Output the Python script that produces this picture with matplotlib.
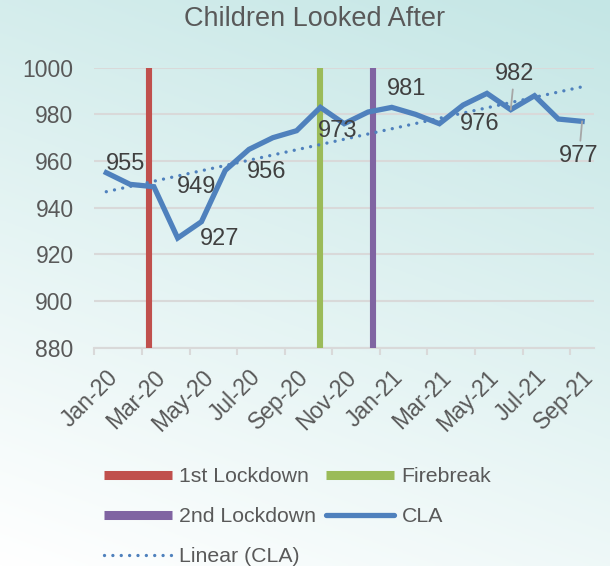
import numpy as np
import matplotlib
matplotlib.use("Agg")
import matplotlib.pyplot as plt
from matplotlib.lines import Line2D
from matplotlib.transforms import ScaledTranslation

plt.rcParams['font.family'] = ['Liberation Sans', 'DejaVu Sans']

# ---- data ----
months = ["Jan-20", "Feb-20", "Mar-20", "Apr-20", "May-20", "Jun-20", "Jul-20",
          "Aug-20", "Sep-20", "Oct-20", "Nov-20", "Dec-20", "Jan-21", "Feb-21",
          "Mar-21", "Apr-21", "May-21", "Jun-21", "Jul-21", "Aug-21", "Sep-21"]
cla = [955, 950, 949, 927, 934, 956, 965, 970, 973, 983, 976, 981, 983, 980,
       976, 984, 989, 982, 988, 978, 977]
# event markers (position in month units from Jan-20)
event_names = ["1st Lockdown", "Firebreak", "2nd Lockdown"]
event_pos = [1.8, 8.98, 11.2]
# labelled points (index into cla) and label positions (month units, value units)
label_idx = [0, 2, 3, 5, 8, 11, 14, 17, 20]
label_pos = [(0.79, 958.7), (3.78, 948.7), (4.76, 926.5), (6.76, 955.3),
             (9.73, 972.8), (12.62, 990.8), (15.71, 975.8), (17.15, 997.2),
             (19.87, 962.2)]
leader_idx = [17, 20]
yticks = [880, 900, 920, 940, 960, 980, 1000]

# ---- style ----
TXT = '#595959'
GRID = '#d9d9d9'
BLUE = '#4f81bd'
event_colors = ['#c0504d', '#9bbb59', '#8064a2']

W, H = 610, 566
fig = plt.figure(figsize=(W / 100, H / 100), dpi=100)

# background gradient
bg = fig.add_axes([0, 0, 1, 1], zorder=-10)
gx, gy = np.meshgrid(np.linspace(0, 1, 200), np.linspace(1, 0, 200))
t = np.clip(0.72 * gy + 0.28 * gx, 0, 1)
top = np.array([0xc4, 0xe6, 0xe5]) / 255.0
img = (1 - t[..., None]) * np.array([1.0, 1.0, 1.0]) + t[..., None] * top
bg.imshow(img, aspect='auto', extent=[0, 1, 0, 1])
bg.axis('off')

x0, x1 = 94.4, 594.0
yt, yb = 67.7, 347.7
ax = fig.add_axes([x0 / W, 1 - yb / H, (x1 - x0) / W, (yb - yt) / H])
ax.set_facecolor('none')

x = np.arange(len(cla))
handles = {}
for name, pos, c in zip(event_names, event_pos, event_colors):
    ax.axvline(pos, color=c, lw=4.4, zorder=3)
    handles[name] = Line2D([], [], color=c, lw=6.5, solid_capstyle='butt')

ax.plot(x, cla, color=BLUE, lw=3.8, zorder=4, solid_joinstyle='miter')
handles['CLA'] = Line2D([], [], color=BLUE, lw=3.8, solid_capstyle='round')

DOT = (0, (0.01, 2.5))
coef = np.polyfit(x, cla, 1)
ax.plot(x, np.polyval(coef, x), color=BLUE, lw=2.4, ls=DOT,
        dash_capstyle='round', zorder=5)
handles['Linear (CLA)'] = Line2D([], [], color=BLUE, lw=2.4, ls=DOT,
                                 dash_capstyle='round')

for i, (lx, ly) in zip(label_idx, label_pos):
    if i in leader_idx:
        ax.annotate(str(cla[i]), xy=(x[i], cla[i]), xytext=(lx, ly),
                    ha='center', va='center', fontsize=17, color='#404040',
                    arrowprops=dict(arrowstyle='-', color='#a6a6a6', lw=1.3,
                                    shrinkA=1, shrinkB=0), zorder=6)
    else:
        ax.text(lx, ly, str(cla[i]), ha='center', va='center', fontsize=17,
                color='#404040', zorder=6)

ax.set_xlim(-0.5, len(cla) - 0.5)
ax.set_ylim(880, 1000)
ax.set_yticks(yticks)
ax.set_yticklabels([str(v) for v in yticks])
ax.grid(axis='y', color=GRID, lw=1.5)
ax.set_axisbelow(True)

ax.set_xticks(x[::2])
ax.set_xticklabels(months[::2], rotation=45, ha='right', va='top',
                   rotation_mode='anchor')
shift = ScaledTranslation(-3 / 100, 0, fig.dpi_scale_trans)
for lab in ax.get_xticklabels():
    lab.set_transform(lab.get_transform() + shift)
ax.set_xticks(np.arange(-0.5, len(cla) - 0.5, 2), minor=True)
ax.tick_params(axis='x', which='major', length=0, pad=13, labelsize=16.5,
               labelcolor=TXT)
ax.tick_params(axis='x', which='minor', length=5, width=1.5, color=GRID)
ax.tick_params(axis='y', length=0, pad=15, labelsize=16.5, labelcolor=TXT)
for s in ['left', 'right', 'top']:
    ax.spines[s].set_visible(False)
ax.spines['bottom'].set_color(GRID)
ax.spines['bottom'].set_linewidth(1.5)

fig.text(314.8 / W, 1 - 19.3 / H, "Children Looked After", ha='center',
         va='center', fontsize=19.5, color=TXT)

order = ["1st Lockdown", "2nd Lockdown", "Linear (CLA)", "Firebreak", "CLA"]
leg = fig.legend([handles[k] for k in order], order, ncol=2,
                 loc='upper left', bbox_to_anchor=(104 / W, 1 - 467.5 / H),
                 frameon=False, fontsize=15.3, handlelength=3.2,
                 handletextpad=0.35, columnspacing=0.45, labelspacing=0.98,
                 borderpad=0, borderaxespad=0)
for txt in leg.get_texts():
    txt.set_color(TXT)

fig.savefig('out.png', dpi=100)
